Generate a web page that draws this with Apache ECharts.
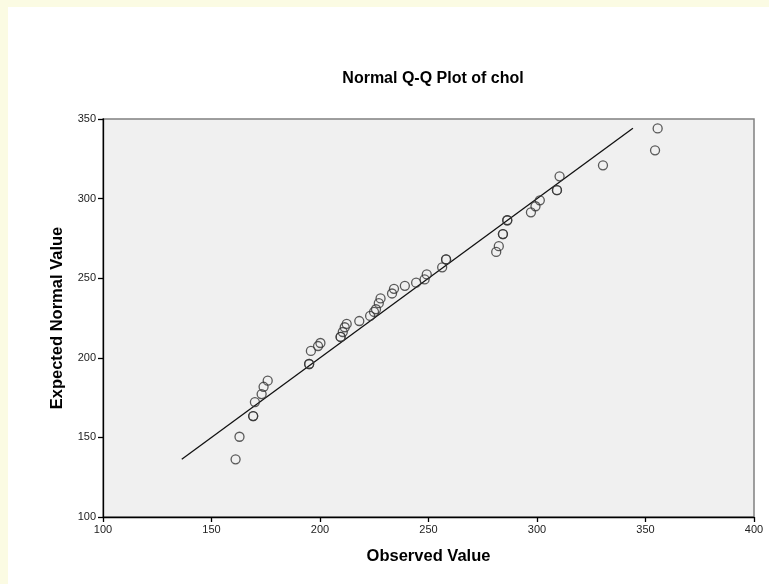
<!DOCTYPE html>
<html>
<head>
<meta charset="utf-8">
<script src="https://cdn.jsdelivr.net/npm/echarts@6/dist/echarts.min.js"></script>
<style>
html,body{margin:0;padding:0;background:#fff;}
#main{width:769px;height:584px;}
</style>
</head>
<body>
<div id="main"></div>
<script>
var observed = [161.1, 162.9, 169.2, 169.2, 170.0, 173.1, 174.0, 175.9, 195.0, 195.0, 195.8, 199.1, 200.2,
  209.5, 209.5, 210.5, 211.4, 212.3, 218.1, 223.1, 224.9, 225.8, 227.1, 227.9, 233.2, 234.1, 239.1,
  244.3, 248.2, 249.2, 256.3, 258.1, 258.1, 281.2, 282.4, 284.3, 284.3, 286.3, 286.3, 297.2, 299.3,
  301.3, 309.2, 309.2, 310.4, 330.4, 354.4, 355.6];
var expected = [136.2, 150.4, 163.4, 163.4, 172.2, 177.2, 181.8, 185.6, 196.1, 196.1, 204.3, 207.4, 209.3,
  213.1, 213.1, 216.2, 219.2, 221.3, 223.1, 226.3, 228.8, 230.5, 234.3, 237.3, 240.4, 243.3, 245.2,
  247.2, 249.2, 252.4, 256.8, 261.8, 261.8, 266.5, 270.1, 277.7, 277.7, 286.4, 286.4, 291.4, 295.2,
  298.9, 305.3, 305.3, 314.0, 320.9, 330.3, 344.1];
// Reference line y = x, endpoints
var lineEnds = [136.3, 344.2];
var xTicks = [100, 150, 200, 250, 300, 350, 400];
var yTicks = [100, 150, 200, 250, 300, 350];

var pts = observed.map(function (v, i) { return [v, expected[i]]; });
var lineData = lineEnds.map(function (v) { return [v, v]; });

var chart = echarts.init(document.getElementById('main'), null, {renderer: 'canvas'});
var font = 'Liberation Sans, Arial, sans-serif';
chart.setOption({
  backgroundColor: '#ffffff',
  animation: false,
  title: {
    text: 'Normal Q-Q Plot of chol',
    left: 428, top: 66, textAlign: 'center',
    textStyle: {fontFamily: font, fontSize: 16, fontWeight: 'bold', color: '#000'}
  },
  graphic: [
    {type: 'rect', left: 0, top: 0, shape: {width: 769, height: 7}, style: {fill: '#fbfbe3'}, z: 100},
    {type: 'rect', left: 0, top: 0, shape: {width: 8, height: 584}, style: {fill: '#fbfbe3'}, z: 100}
  ],
  grid: {
    left: 103, top: 119, right: 15, bottom: 67,
    show: true, backgroundColor: '#f0f0f0', borderColor: '#808080', borderWidth: 1.5
  },
  xAxis: {
    type: 'value', min: xTicks[0], max: xTicks[xTicks.length - 1], interval: 50,
    name: 'Observed Value', nameLocation: 'middle', nameGap: 31,
    nameTextStyle: {fontFamily: font, fontSize: 16.5, fontWeight: 'bold', color: '#000'},
    axisLine: {show: true, onZero: false, lineStyle: {color: '#000', width: 1.3}},
    axisTick: {show: true, length: 5, lineStyle: {color: '#000', width: 1.3}},
    axisLabel: {fontFamily: font, fontSize: 11, color: '#222', margin: 7},
    splitLine: {show: false}
  },
  yAxis: {
    type: 'value', min: yTicks[0], max: yTicks[yTicks.length - 1], interval: 50,
    name: 'Expected Normal Value', nameLocation: 'middle', nameGap: 37,
    nameTextStyle: {fontFamily: font, fontSize: 16.5, fontWeight: 'bold', color: '#000'},
    axisLine: {show: true, onZero: false, lineStyle: {color: '#000', width: 1.3}},
    axisTick: {show: true, length: 5, lineStyle: {color: '#000', width: 1.3}},
    axisLabel: {fontFamily: font, fontSize: 11, color: '#222', margin: 7},
    splitLine: {show: false}
  },
  series: [
    {
      type: 'line', data: lineData, symbol: 'none',
      lineStyle: {color: '#111', width: 1.3}, z: 2, silent: true
    },
    {
      type: 'scatter', data: pts, symbol: 'circle', symbolSize: 9,
      itemStyle: {color: 'rgba(0,0,0,0)', borderColor: '#333', borderWidth: 1.3},
      z: 3
    }
  ]
});
</script>
</body>
</html>
